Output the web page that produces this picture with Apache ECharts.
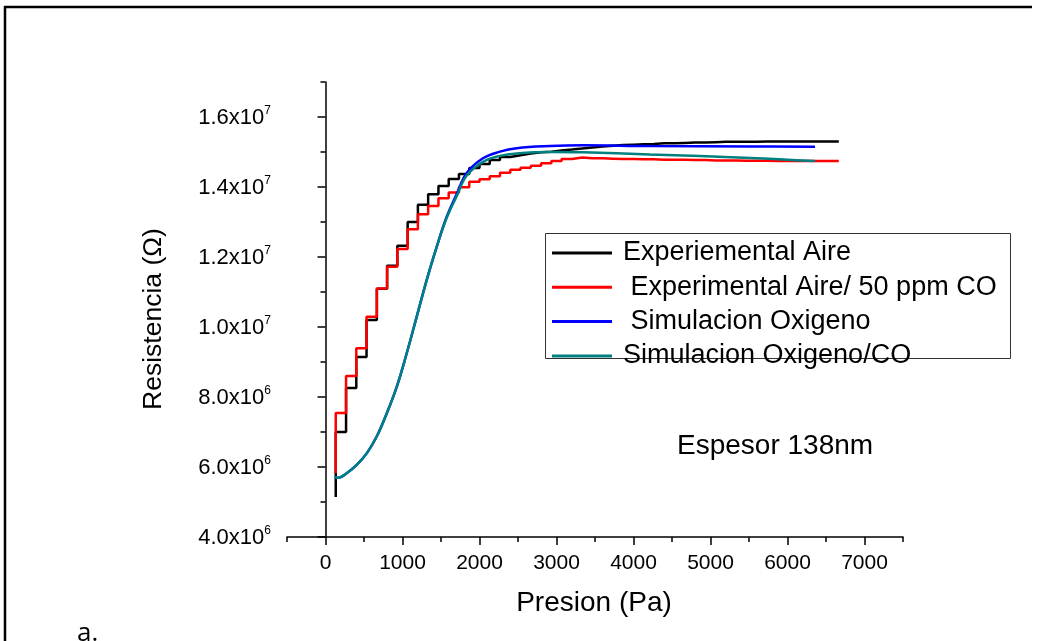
<!DOCTYPE html>
<html><head><meta charset="utf-8">
<script src="https://cdn.jsdelivr.net/npm/echarts@6/dist/echarts.min.js"></script>
<style>html,body{margin:0;padding:0;background:#fff}#c{width:1037px;height:641px}</style>
</head><body><div id="c"></div>
<script>
// Experimental pressures (Pa), 1..50 Torr
const pressureExp = [133,267,400,533,667,800,933,1067,1200,1333,1467,1600,1733,1867,2000,2133,2266,2400,2533,2666,2800,2933,3066,3200,3333,3466,3600,3733,3866,4000,4133,4266,4400,4533,4666,4799,4933,5066,5199,5333,5466,5599,5733,5866,5999,6133,6266,6399,6533,6666];
const aire = [5.14e6,7.00e6,8.26e6,9.14e6,10.20e6,11.09e6,11.75e6,12.32e6,13.00e6,13.49e6,13.79e6,14.03e6,14.23e6,14.37e6,14.54e6,14.66e6,14.77e6,14.86e6,14.91e6,14.96e6,14.99e6,15.01e6,15.04e6,15.07e6,15.10e6,15.13e6,15.16e6,15.18e6,15.20e6,15.21e6,15.22e6,15.23e6,15.25e6,15.25e6,15.26e6,15.27e6,15.27e6,15.28e6,15.29e6,15.29e6,15.29e6,15.29e6,15.30e6,15.30e6,15.30e6,15.30e6,15.30e6,15.30e6,15.30e6,15.30e6];
const aireCO = [5.82e6,7.54e6,8.60e6,9.39e6,10.29e6,11.10e6,11.72e6,12.23e6,12.79e6,13.22e6,13.46e6,13.68e6,13.84e6,13.99e6,14.15e6,14.22e6,14.31e6,14.41e6,14.49e6,14.55e6,14.61e6,14.68e6,14.74e6,14.80e6,14.84e6,14.82e6,14.82e6,14.81e6,14.80e6,14.80e6,14.79e6,14.79e6,14.78e6,14.78e6,14.78e6,14.77e6,14.77e6,14.76e6,14.76e6,14.76e6,14.75e6,14.75e6,14.75e6,14.74e6,14.74e6,14.74e6,14.74e6,14.74e6,14.74e6,14.74e6];
// Simulation curves
const pressureSim = [123,162,275,405,535,665,795,925,1055,1184,1314,1444,1574,1704,1834,2045,2266,2483,2916,3344,4214,5513,6357];
const simO2 = [5.72e6,5.69e6,5.82e6,6.06e6,6.39e6,6.87e6,7.53e6,8.29e6,9.25e6,10.29e6,11.34e6,12.29e6,13.15e6,13.80e6,14.40e6,14.82e6,15.01e6,15.11e6,15.17e6,15.19e6,15.17e6,15.16e6,15.15e6];
const simO2CO = [5.72e6,5.69e6,5.82e6,6.06e6,6.39e6,6.87e6,7.53e6,8.29e6,9.25e6,10.29e6,11.34e6,12.29e6,13.12e6,13.74e6,14.33e6,14.72e6,14.89e6,14.96e6,15.00e6,14.99e6,14.93e6,14.83e6,14.74e6];
const seriesNames = ['Experiemental Aire', ' Experimental Aire/ 50 ppm CO', ' Simulacion Oxigeno', 'Simulacion Oxigeno/CO'];
const seriesColors = ['#000000', '#ff0000', '#0000ff', '#008080'];
const xMajorTicks = [0,1000,2000,3000,4000,5000,6000,7000];
const xMinorTicks = [-500,500,1500,2500,3500,4500,5500,6500,7500];
const yMajorTicks = [4e6,6e6,8e6,10e6,12e6,14e6,16e6];
const yMinorTicks = [5e6,7e6,9e6,11e6,13e6,15e6,17e6];

const FONT = '"Liberation Sans", Arial, sans-serif';
const zip = (xs, ys) => xs.map((x, i) => [x, ys[i]]);
const chart = echarts.init(document.getElementById('c'));
const axisLine = {show: true, lineStyle: {color: '#000', width: 1.5}};
const xBase = {type: 'value', min: -500, max: 7500, position: 'bottom', splitLine: {show: false}};
const yBase = {type: 'value', min: 4e6, max: 17e6, position: 'left', splitLine: {show: false}};
function sci(v) {
  const e = Math.floor(Math.log10(v) + 1e-9);
  const m = v / Math.pow(10, e);
  return '{b|' + m.toFixed(1) + 'x10}{sup|' + e + '}';
}
chart.setOption({
  animation: false,
  backgroundColor: '#fff',
  textStyle: {fontFamily: FONT},
  grid: {left: 287, right: 134, top: 82, bottom: 104, containLabel: false},
  xAxis: [
    Object.assign({}, xBase, {
      axisLine: axisLine,
      axisTick: {show: true, inside: false, length: 8, customValues: xMajorTicks, lineStyle: {color: '#000', width: 1.5}},
      axisLabel: {show: true, customValues: xMajorTicks, margin: 16, fontSize: 21, color: '#000', fontFamily: FONT, formatter: v => String(v)}
    }),
    Object.assign({}, xBase, {
      axisLine: {show: false},
      axisTick: {show: true, length: 5, customValues: xMinorTicks, lineStyle: {color: '#000', width: 1.5}},
      axisLabel: {show: false}
    })
  ],
  yAxis: [
    Object.assign({}, yBase, {
      axisLine: axisLine,
      axisTick: {show: true, length: 8, customValues: yMajorTicks, lineStyle: {color: '#000', width: 1.5}},
      axisLabel: {
        show: true, customValues: yMajorTicks, margin: 16, color: '#000', formatter: sci,
        rich: {
          b: {fontSize: 22, fontFamily: FONT, color: '#000', lineHeight: 24, verticalAlign: 'bottom'},
          sup: {fontSize: 12, fontFamily: FONT, color: '#000', lineHeight: 12, verticalAlign: 'top'}
        }
      }
    }),
    Object.assign({}, yBase, {
      axisLine: {show: false},
      axisTick: {show: true, length: 5, customValues: yMinorTicks, lineStyle: {color: '#000', width: 1.5}},
      axisLabel: {show: false}
    })
  ],
  legend: {
    orient: 'vertical', left: 552, top: 238, padding: 0, icon: 'rect', itemWidth: 60, itemHeight: 3, itemGap: 4.3,
    data: seriesNames,
    textStyle: {fontSize: 27, fontFamily: FONT, color: '#000', lineHeight: 30, padding: [0, 0, 0, 6]}
  },
  series: [
    {name: seriesNames[0], type: 'line', step: 'start', data: zip(pressureExp, aire), showSymbol: false, lineStyle: {color: seriesColors[0], width: 2.5}, itemStyle: {color: seriesColors[0]}},
    {name: seriesNames[1], type: 'line', step: 'start', data: zip(pressureExp, aireCO), showSymbol: false, lineStyle: {color: seriesColors[1], width: 2.5}, itemStyle: {color: seriesColors[1]}},
    {name: seriesNames[2], type: 'line', smooth: 0.4, data: zip(pressureSim, simO2), showSymbol: false, lineStyle: {color: seriesColors[2], width: 2.5}, itemStyle: {color: seriesColors[2]}},
    {name: seriesNames[3], type: 'line', smooth: 0.4, data: zip(pressureSim, simO2CO), showSymbol: false, lineStyle: {color: seriesColors[3], width: 2.5}, itemStyle: {color: seriesColors[3]}}
  ],
  graphic: [
    {type: 'line', shape: {x1: 4, y1: 7, x2: 1032, y2: 7}, style: {stroke: '#000', lineWidth: 2.5}},
    {type: 'line', shape: {x1: 5, y1: 6, x2: 5, y2: 641}, style: {stroke: '#000', lineWidth: 2.5}},
    {type: 'rect', shape: {x: 545.5, y: 233.5, width: 465, height: 125}, style: {fill: 'none', stroke: '#333', lineWidth: 1}},
    {type: 'text', x: 677, y: 446, style: {text: 'Espesor 138nm', font: '28px ' + FONT, fill: '#000', align: 'left', verticalAlign: 'middle'}},
    {type: 'text', x: 594, y: 603, style: {text: 'Presion (Pa)', font: '28px ' + FONT, fill: '#000', align: 'center', verticalAlign: 'middle'}},
    {type: 'text', x: 154, y: 319, rotation: Math.PI / 2, style: {text: 'Resistencia (Ω)', font: '26.5px ' + FONT, fill: '#000', align: 'center', verticalAlign: 'middle'}},
    {type: 'text', x: 77, y: 621, style: {text: 'a.', font: '26px "Open Sans", sans-serif', fill: '#000', align: 'left', verticalAlign: 'top'}}
  ]
});
</script></body></html>
